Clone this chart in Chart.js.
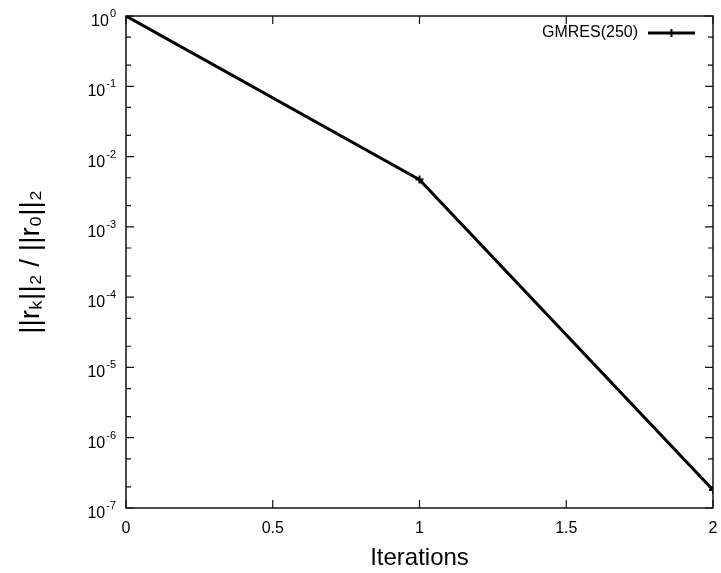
<!DOCTYPE html>
<html>
<head>
<meta charset="utf-8">
<script src="https://cdn.jsdelivr.net/npm/chart.js@4.4.1/dist/chart.umd.min.js"></script>
<style>
  html, body { margin: 0; padding: 0; background: #fff; }
  #wrap { width: 721px; height: 573px; }
</style>
</head>
<body>
<div id="wrap"><canvas id="residChart" width="721" height="573"></canvas></div>
<script>
const iterations = [0, 1, 2];
const residuals = [1.0, 4.7e-3, 1.8e-7];
const seriesName = 'GMRES(250)';
const yDecades = [1e-7, 1e-6, 1e-5, 1e-4, 1e-3, 1e-2, 1e-1, 1e0];
const yExponents = ['-7', '-6', '-5', '-4', '-3', '-2', '-1', '0'];
const yMinorFactors = [2, 5];
const xTickValues = [0, 0.5, 1, 1.5, 2];
const xTickLabels = ['0', '0.5', '1', '1.5', '2'];

const ctx = document.getElementById('residChart');
const FONT = "'Liberation Sans', Arial, Helvetica, sans-serif";

// gnuplot-like frame with inward ticks, 10^n labels, legend top right
const framePlugin = {
  id: 'frame',
  afterDatasetsDraw(chart) {
    const { ctx, chartArea: a, scales } = chart;
    const y = scales.y, x = scales.x;
    ctx.save();
    ctx.strokeStyle = '#111';
    ctx.lineWidth = 1.5;
    ctx.strokeRect(a.left, a.top, a.right - a.left, a.bottom - a.top);
    ctx.lineWidth = 1.2;
    ctx.beginPath();
    yDecades.forEach(v => {
      const py = y.getPixelForValue(v);
      ctx.moveTo(a.left, py); ctx.lineTo(a.left + 8, py);
      ctx.moveTo(a.right, py); ctx.lineTo(a.right - 8, py);
      yMinorFactors.forEach(f => {
        const mv = v * f;
        if (mv < 1) {
          const my = y.getPixelForValue(mv);
          ctx.moveTo(a.left, my); ctx.lineTo(a.left + 5, my);
          ctx.moveTo(a.right, my); ctx.lineTo(a.right - 5, my);
        }
      });
    });
    xTickValues.forEach(v => {
      const px = x.getPixelForValue(v);
      ctx.moveTo(px, a.bottom); ctx.lineTo(px, a.bottom - 8);
      ctx.moveTo(px, a.top); ctx.lineTo(px, a.top + 8);
    });
    ctx.stroke();

    // y tick labels as 10 with superscript exponent
    ctx.fillStyle = '#000';
    ctx.textBaseline = 'alphabetic';
    yDecades.forEach((v, i) => {
      const py = y.getPixelForValue(v);
      const right = a.left - 10;
      ctx.font = '11px ' + FONT;
      const ew = ctx.measureText(yExponents[i]).width;
      ctx.textAlign = 'left';
      ctx.fillText(yExponents[i], right - ew, py + 1);
      ctx.font = '16px ' + FONT;
      ctx.textAlign = 'right';
      ctx.fillText('10', right - ew - 1, py + 10);
    });

    // legend: text then line sample
    const ly = a.top + 17;
    const sx1 = a.right - 18, sx0 = sx1 - 47;
    ctx.font = '16px ' + FONT;
    ctx.fillStyle = '#000';
    ctx.textAlign = 'right';
    ctx.textBaseline = 'middle';
    ctx.fillText(seriesName, sx0 - 10, ly);
    ctx.lineWidth = 3;
    ctx.strokeStyle = '#000';
    ctx.beginPath();
    ctx.moveTo(sx0, ly); ctx.lineTo(sx1, ly);
    ctx.stroke();
    ctx.lineWidth = 2;
    ctx.beginPath();
    const mx = (sx0 + sx1) / 2;
    ctx.moveTo(mx, ly - 4); ctx.lineTo(mx, ly + 4);
    ctx.stroke();
    ctx.restore();
  }
};

new Chart(ctx, {
  type: 'line',
  data: {
    datasets: [{
      label: seriesName,
      data: iterations.map((it, i) => ({ x: it, y: residuals[i] })),
      borderColor: '#000',
      backgroundColor: '#000',
      borderWidth: 3,
      pointStyle: 'cross',
      pointRadius: 4,
      pointBorderWidth: 2,
      tension: 0
    }]
  },
  options: {
    responsive: false,
    animation: false,
    layout: { padding: { left: 0, right: 8, top: 16, bottom: 0 } },
    plugins: {
      legend: { display: false },
      tooltip: { enabled: false }
    },
    scales: {
      x: {
        type: 'linear',
        min: 0,
        max: 2,
        afterBuildTicks: s => { s.ticks = xTickValues.map(v => ({ value: v })); },
        afterFit: s => { s.height = 65; s.paddingRight = 0; s.paddingLeft = 0; },
        grid: { display: false, drawTicks: false },
        border: { display: false },
        ticks: {
          padding: 11,
          color: '#000',
          font: { family: FONT, size: 16 },
          maxRotation: 0,
          callback: (v) => xTickLabels[xTickValues.indexOf(v)] ?? ''
        },
        title: {
          display: true,
          text: 'Iterations',
          color: '#000',
          font: { family: FONT, size: 24 },
          padding: { top: 0, bottom: 0 }
        }
      },
      y: {
        type: 'logarithmic',
        min: 1e-7,
        max: 1,
        afterBuildTicks: s => { s.ticks = yDecades.map(v => ({ value: v })); },
        afterFit: s => { s.width = 126; },
        grid: { display: false, drawTicks: false },
        border: { display: false },
        ticks: { display: false },
        title: {
          display: true,
          text: '||rₖ||₂ / ||r₀||₂',
          color: '#000',
          font: { family: FONT, size: 28 },
          padding: { top: 14, bottom: 0 }
        }
      }
    }
  },
  plugins: [framePlugin]
});
</script>
</body>
</html>
